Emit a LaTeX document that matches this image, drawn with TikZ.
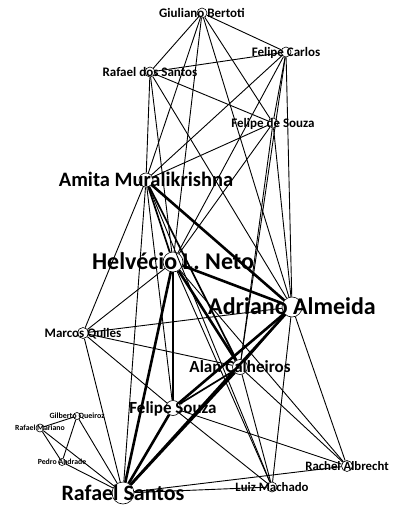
\documentclass[tikz,border=0pt]{standalone}
\usepackage{fontspec}
\setmainfont{Carlito}
\begin{document}
\begin{tikzpicture}[x=1pt,y=-1pt,
  vtx/.style={circle,draw=black,line width=0.6pt,fill=white,inner sep=0pt,minimum size=#1},
  lbl/.style={anchor=base,inner sep=0pt,font=\fontsize{#1}{#1}\selectfont\bfseries,yshift=-#1*0.322pt},
  e1/.style={line width=0.9pt},
  e2/.style={line width=1.7pt},
  e3/.style={line width=2.6pt}]
\useasboundingbox (0,0) rectangle (393,506);
% vertices
\node[vtx=10pt] (GB)  at (202,13)  {};
\node[vtx=10pt] (FC)  at (286,52)  {};
\node[vtx=10pt] (RdS) at (150,72)  {};
\node[vtx=10pt] (FdS) at (273,123) {};
\node[vtx=14pt] (AM)  at (146,180) {};
\node[vtx=20pt] (HN)  at (173,262) {};
\node[vtx=20pt] (AA)  at (292,307) {};
\node[vtx=11pt] (MQ)  at (83,333)  {};
\node[vtx=15pt] (AC)  at (240,367) {};
\node[vtx=15pt] (FS)  at (173,408) {};
\node[vtx=7pt]  (GQ)  at (77,416)  {};
\node[vtx=8pt]  (RM)  at (40,428)  {};
\node[vtx=7pt]  (PA)  at (62,462)  {};
\node[vtx=22pt] (RS)  at (123,493) {};
\node[vtx=10pt] (LM)  at (272,487) {};
\node[vtx=11pt] (RA)  at (347,466) {};
% co-authorship links
\foreach \a/\b in {GB/RdS,GB/FC,GB/AM,GB/HN,GB/FdS,GB/AA,
  RdS/FC,RdS/FdS,RdS/AM,RdS/HN,RdS/AA,
  FC/AM,FC/HN,FC/FdS,FC/AA,FC/AC,
  FdS/AM,FdS/HN,FdS/AA,FdS/AC,
  AM/MQ,AM/RS,AM/FS,AM/LM,
  HN/MQ,HN/LM,HN/RA,
  AA/MQ,AA/AC,AA/LM,AA/RA,
  MQ/AC,MQ/RS,MQ/FS,
  AC/LM,AC/RA,
  FS/LM,FS/RA,
  RS/LM,RS/RA,RS/GQ,RS/RM,RS/PA,
  GQ/RM,GQ/PA,RM/PA}
  \draw[e1] (\a) -- (\b);
\foreach \a/\b in {AM/HN,AM/AC,AC/FS}
  \draw[e2] (\a) -- (\b);
\foreach \a/\b in {AM/AA,HN/AA,HN/AC,HN/FS,HN/RS,AA/FS,AA/RS,AC/RS,FS/RS}
  \draw[e3] (\a) -- (\b);
% names
\node[lbl=13] (GB-l)  at (GB)  {Giuliano Bertoti};
\node[lbl=13] (FC-l)  at (FC)  {Felipe Carlos};
\node[lbl=13] (RdS-l) at (RdS) {Rafael dos Santos};
\node[lbl=13] (FdS-l) at (FdS) {Felipe de Souza};
\node[lbl=20.5] (AM-l) at (AM) {Amita Muralikrishna};
\node[lbl=24] (HN-l)  at (HN)  {Helvécio L. Neto};
\node[lbl=24] (AA-l)  at (AA)  {Adriano Almeida};
\node[lbl=13] (MQ-l)  at (MQ)  {Marcos Quiles};
\node[lbl=17] (AC-l)  at (AC)  {Alan Calheiros};
\node[lbl=17] (FS-l)  at (FS)  {Felipe Souza};
\node[lbl=8]  (GQ-l)  at (GQ)  {Gilberto Queiroz};
\node[lbl=7.8] (RM-l) at (RM)  {Rafael Mariano};
\node[lbl=7.8] (PA-l) at (PA)  {Pedro Andrade};
\node[lbl=22] (RS-l)  at (RS)  {Rafael Santos};
\node[lbl=12.8] (LM-l) at (LM) {Luiz Machado};
\node[lbl=12.8] (RA-l) at (RA) {Rachel Albrecht};
\end{tikzpicture}
\end{document}
